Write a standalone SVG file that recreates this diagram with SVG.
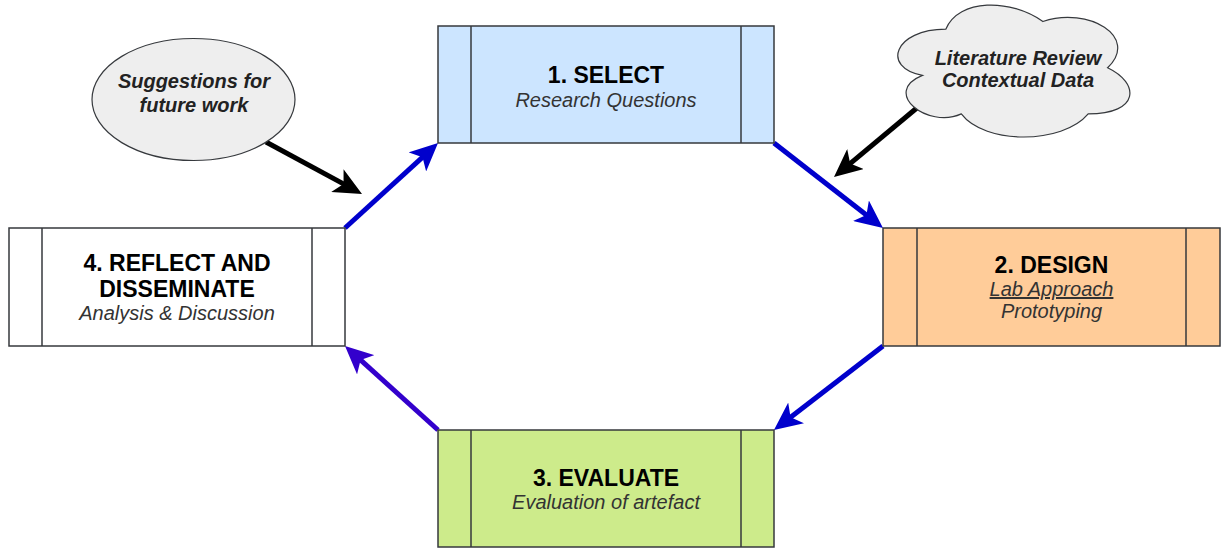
<svg xmlns="http://www.w3.org/2000/svg" width="1224" height="548" viewBox="0 0 1224 548">
<style>
.box{stroke:#36393d;stroke-width:1.5}
.div{stroke:#36393d;stroke-width:1.5}
.t{font-family:"Liberation Sans",Arial,sans-serif;font-size:23px;font-weight:bold;fill:#000;text-anchor:middle}
.s{font-family:"Liberation Sans",Arial,sans-serif;font-size:20px;font-style:italic;fill:#333;text-anchor:middle}
.n{font-family:"Liberation Sans",Arial,sans-serif;font-size:20px;font-style:italic;font-weight:bold;fill:#222;text-anchor:middle}
.bubble{fill:#eeeeee;stroke:#36393d;stroke-width:1.2}
.c{fill:none;stroke-width:5}
</style>
<defs>
<marker id="ab" viewBox="0 0 28 26" refX="9" refY="13" markerWidth="28" markerHeight="26" markerUnits="userSpaceOnUse" orient="auto"><path d="M0,0 L28,13 L0,26 L7,13 Z" fill="#0000cc"/></marker>
<marker id="ap" viewBox="0 0 28 26" refX="9" refY="13" markerWidth="28" markerHeight="26" markerUnits="userSpaceOnUse" orient="auto"><path d="M0,0 L28,13 L0,26 L7,13 Z" fill="#3300cc"/></marker>
<marker id="ak" viewBox="0 0 28 26" refX="9" refY="13" markerWidth="28" markerHeight="26" markerUnits="userSpaceOnUse" orient="auto"><path d="M0,0 L28,13 L0,26 L7,13 Z" fill="#000"/></marker>
</defs>
<g id="connectors">
<line class="c" stroke="#0000cc" x1="345" y1="228" x2="424" y2="155.8" marker-end="url(#ab)"/>
<line class="c" stroke="#0000cc" x1="774" y1="143" x2="868" y2="216.3" marker-end="url(#ab)"/>
<line class="c" stroke="#0000cc" x1="883" y1="346" x2="789" y2="418.4" marker-end="url(#ab)"/>
<line class="c" stroke="#3300cc" x1="438" y1="430" x2="359.1" y2="358.7" marker-end="url(#ap)"/>
<line class="c" stroke="#000" x1="266" y1="142" x2="345.3" y2="184.9" marker-end="url(#ak)"/>
<line class="c" stroke="#000" x1="918" y1="107" x2="848.6" y2="164.8" marker-end="url(#ak)"/>
</g>
<g id="select">
<rect class="box" x="438" y="26" width="336" height="117" fill="#cce5ff"/>
<line class="div" x1="471" y1="26" x2="471" y2="143"/>
<line class="div" x1="741" y1="26" x2="741" y2="143"/>
<text class="t" x="606" y="83">1. SELECT</text>
<text class="s" x="606" y="107">Research Questions</text>
</g>
<g id="design">
<rect class="box" x="883" y="228" width="337" height="118" fill="#ffcc99"/>
<line class="div" x1="917" y1="228" x2="917" y2="346"/>
<line class="div" x1="1186" y1="228" x2="1186" y2="346"/>
<text class="t" x="1051.5" y="273">2. DESIGN</text>
<text class="s" x="1051.5" y="296" text-decoration="underline">Lab Approach</text>
<text class="s" x="1051.5" y="318">Prototyping</text>
</g>
<g id="evaluate">
<rect class="box" x="438" y="430" width="336" height="117" fill="#cdeb8b"/>
<line class="div" x1="471" y1="430" x2="471" y2="547"/>
<line class="div" x1="741" y1="430" x2="741" y2="547"/>
<text class="t" x="606" y="486">3. EVALUATE</text>
<text class="s" x="606" y="509">Evaluation of artefact</text>
</g>
<g id="reflect">
<rect class="box" x="9" y="228" width="336" height="118" fill="#ffffff" stroke="#000"/>
<line class="div" x1="42" y1="228" x2="42" y2="346"/>
<line class="div" x1="312" y1="228" x2="312" y2="346"/>
<text class="t" x="177" y="271">4. REFLECT AND</text>
<text class="t" x="177" y="297">DISSEMINATE</text>
<text class="s" x="177" y="320">Analysis &amp; Discussion</text>
</g>
<g id="suggestions">
<ellipse class="bubble" cx="193.5" cy="99.5" rx="101.5" ry="61"/>
<text class="n" x="194" y="88">Suggestions for</text>
<text class="n" x="194" y="112">future work</text>
</g>
<g id="literature">
<path class="bubble" d="M945.8,29.2 C894,29.2 881,67.7 922.4,75.4 C881,92.3 927.6,129.3 961.3,113.9 C984.6,144.7 1062.3,144.7 1088.2,113.9 C1140,113.9 1140,83.1 1107.6,67.7 C1140,36.9 1088.2,6.1 1042.9,21.5 C1010.5,-1.6 958.7,-1.6 945.8,29.2 Z"/>
<text class="n" x="1018" y="65">Literature Review</text>
<text class="n" x="1018" y="87">Contextual Data</text>
</g>
</svg>
